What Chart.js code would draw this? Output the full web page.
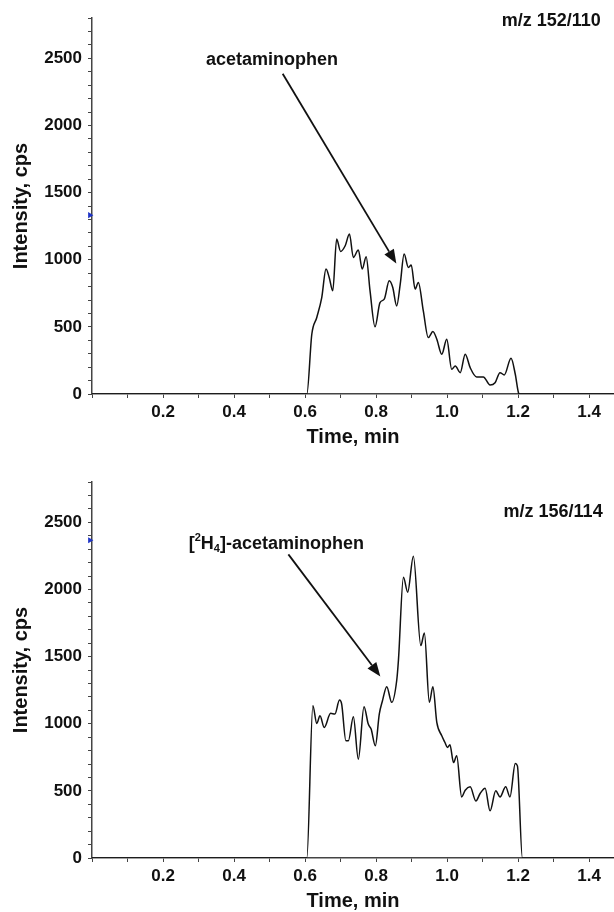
<!DOCTYPE html>
<html>
<head>
<meta charset="utf-8">
<script src="https://cdn.jsdelivr.net/npm/chart.js@4.4.0/dist/chart.umd.min.js"></script>
<style>
  html, body { margin: 0; padding: 0; background: #fff; }
  .panel { position: absolute; left: 0; width: 614px; height: 456px; }
</style>
</head>
<body>
<div class="panel" style="top:0"><canvas id="topChart"></canvas></div>
<div class="panel" style="top:456px"><canvas id="bottomChart"></canvas></div>
<script>
// m/z 152/110 (acetaminophen)
const topTimes = [0, 0.600, 0.605, 0.619, 0.633, 0.647, 0.659, 0.668, 0.678, 0.689, 0.700, 0.713, 0.725,
  0.736, 0.750, 0.761, 0.772, 0.783, 0.797, 0.811, 0.823, 0.837, 0.847, 0.858, 0.868, 0.879, 0.891, 0.899,
  0.910, 0.919, 0.933, 0.947, 0.960, 0.971, 0.985, 0.999, 1.013, 1.023, 1.037, 1.051, 1.065, 1.083, 1.102,
  1.121, 1.135, 1.149, 1.161, 1.180, 1.192, 1.201, 1.205, 1.47];
const topIntensity = [0, 0, 0, 445, 570, 718, 930, 868, 768, 1154, 1062, 1104, 1191,
  1017, 1072, 930, 1022, 768, 500, 681, 706, 843, 793, 656, 818, 1042, 942, 960,
  781, 831, 619, 420, 465, 408, 296, 408, 184, 209, 159, 296, 196, 127, 127,
  67, 84, 159, 142, 266, 147, 10, 0, 0];

// m/z 156/114 ([2H4]-acetaminophen)
const bottomTimes = [0, 0.600, 0.605, 0.622, 0.633, 0.642, 0.654, 0.672, 0.684, 0.697, 0.703, 0.715, 0.722,
  0.736, 0.750, 0.766, 0.778, 0.786, 0.798, 0.809, 0.818, 0.830, 0.844, 0.858, 0.863, 0.877, 0.889, 0.905,
  0.926, 0.936, 0.950, 0.960, 0.971, 0.985, 0.994, 1.001, 1.008, 1.018, 1.027, 1.041, 1.051, 1.065, 1.081,
  1.093, 1.107, 1.121, 1.137, 1.149, 1.165, 1.177, 1.192, 1.198, 1.212, 1.47];
const bottomIntensity = [0, 0, 0, 1134, 1002, 1059, 972, 1077, 1072, 1176, 1147, 873, 873,
  1052, 736, 1127, 997, 960, 836, 1072, 1171, 1276, 1159, 1320, 1475, 2091, 1979, 2248,
  1582, 1676, 1159, 1276, 1010, 910, 860, 823, 843, 711, 761, 455, 505, 530, 425,
  480, 520, 351, 500, 455, 530, 455, 703, 686, 0, 0];

const FONT = '"Liberation Sans", Arial, Helvetica, sans-serif';

// text labels and arrows placed in data coordinates
const notes = {
  id: 'notes',
  afterDatasetsDraw(chart, args, opts) {
    const { ctx } = chart;
    const x = chart.scales.x, y = chart.scales.y;
    const px = v => x.getPixelForValue(v), py = v => y.getPixelForValue(v);
    ctx.save();
    ctx.fillStyle = '#111';
    ctx.strokeStyle = '#111';
    ctx.textBaseline = 'middle';

    ctx.font = 'bold 18px ' + FONT;
    ctx.textAlign = 'right';
    ctx.fillText(opts.ion, px(opts.ionAt[0]), py(opts.ionAt[1]));

    // compound name, with optional super/subscripts
    ctx.textAlign = 'left';
    const big = 'bold 18px ' + FONT, small = 'bold 11px ' + FONT;
    let w = 0;
    opts.label.forEach(([t, m]) => { ctx.font = m === 'n' ? big : small; w += ctx.measureText(t).width; });
    let cx = px(opts.labelAt[0]) - w / 2;
    const cy = py(opts.labelAt[1]);
    opts.label.forEach(([t, m]) => {
      ctx.font = m === 'n' ? big : small;
      const dy = m === 'sup' ? -6 : m === 'sub' ? 5 : 0;
      ctx.fillText(t, cx, cy + dy);
      cx += ctx.measureText(t).width;
    });

    // arrow
    const x0 = px(opts.arrow[0][0]), y0 = py(opts.arrow[0][1]);
    const x1 = px(opts.arrow[1][0]), y1 = py(opts.arrow[1][1]);
    const a = Math.atan2(y1 - y0, x1 - x0);
    const len = 14, half = 5.5;
    const bx = x1 - len * Math.cos(a), by = y1 - len * Math.sin(a);
    ctx.lineWidth = 1.8;
    ctx.beginPath();
    ctx.moveTo(x0, y0);
    ctx.lineTo(bx, by);
    ctx.stroke();
    ctx.beginPath();
    ctx.moveTo(x1, y1);
    ctx.lineTo(bx + half * Math.sin(a), by - half * Math.cos(a));
    ctx.lineTo(bx - half * Math.sin(a), by + half * Math.cos(a));
    ctx.closePath();
    ctx.fill();
    ctx.restore();
  }
};

function makeChart(id, times, values, markerY, note, padTop, xHeight) {
  return new Chart(document.getElementById(id), {
    type: 'line',
    data: {
      datasets: [{
        data: times.map((t, i) => ({ x: t, y: values[i] })),
        borderColor: '#111',
        borderWidth: 1.5,
        pointRadius: 0,
        cubicInterpolationMode: 'monotone',
        fill: false
      }, {
        data: [{ x: -0.006, y: markerY }],
        showLine: false,
        pointStyle: 'triangle',
        rotation: 90,
        pointRadius: 3.5,
        backgroundColor: '#1f35c8',
        borderWidth: 0,
        clip: false
      }]
    },
    options: {
      responsive: true,
      maintainAspectRatio: false,
      animation: false,
      layout: { autoPadding: false, padding: { top: padTop, right: 0, left: 0, bottom: 0 } },
      plugins: {
        legend: { display: false },
        tooltip: { enabled: false },
        notes: note
      },
      scales: {
        x: {
          type: 'linear',
          min: 0,
          max: 1.47,
          afterFit(scale) { scale.height = xHeight; },
          border: { color: '#444', width: 1.5 },
          grid: { drawOnChartArea: false, tickLength: 4, tickColor: '#444' },
          ticks: {
            stepSize: 0.1,
            includeBounds: false,
            autoSkip: false,
            maxRotation: 0,
            padding: 4,
            color: '#111',
            font: { family: FONT, size: 17, weight: 'bold' },
            callback(v) {
              const k = Math.round(v * 10);
              return k > 0 && k % 2 === 0 ? (k / 10).toFixed(1) : '';
            }
          },
          title: {
            display: true,
            text: 'Time, min',
            color: '#111',
            font: { family: FONT, size: 20, weight: 'bold', lineHeight: 1 },
            padding: { top: 0, bottom: xHeight - 53 }
          }
        },
        y: {
          min: 0,
          max: 2800,
          afterFit(scale) { scale.width = 92; },
          border: { color: '#444', width: 1.5 },
          grid: { drawOnChartArea: false, tickLength: 4, tickColor: '#444' },
          ticks: {
            stepSize: 100,
            autoSkip: false,
            padding: 6,
            color: '#111',
            font: { family: FONT, size: 17, weight: 'bold' },
            callback(v) { return v % 500 === 0 ? String(v) : ''; }
          },
          title: {
            display: true,
            text: 'Intensity, cps',
            color: '#111',
            font: { family: FONT, size: 20, weight: 'bold', lineHeight: 1 },
            padding: { top: 11, bottom: 0 }
          }
        }
      }
    },
    plugins: [notes]
  });
}

makeChart('topChart', topTimes, topIntensity, 1332, {
  ion: 'm/z 152/110', ionAt: [1.433, 2776],
  label: [['acetaminophen', 'n']], labelAt: [0.507, 2490],
  arrow: [[0.537, 2385], [0.857, 971]]
}, 18, 62);

makeChart('bottomChart', bottomTimes, bottomIntensity, 2366, {
  ion: 'm/z 156/114', ionAt: [1.438, 2575],
  label: [['[', 'n'], ['2', 'sup'], ['H', 'n'], ['4', 'sub'], [']-acetaminophen', 'n']], labelAt: [0.519, 2336],
  arrow: [[0.553, 2261], [0.812, 1352]]
}, 26, 54);
</script>
</body>
</html>
